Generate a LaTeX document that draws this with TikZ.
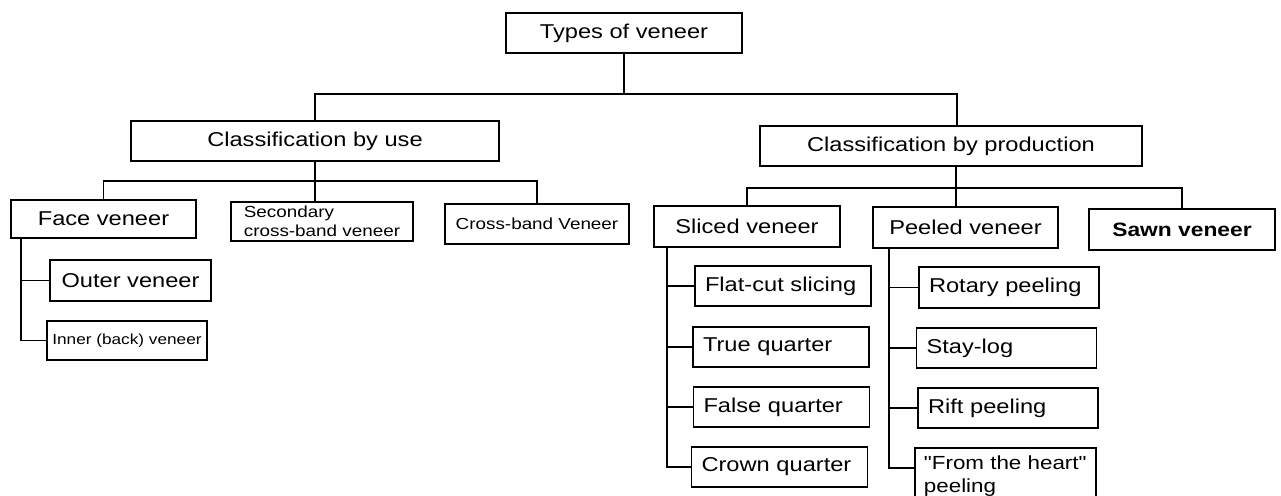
\documentclass[tikz,border=0pt]{standalone}
\usepackage{fontspec}
\setmainfont{Liberation Sans}[FakeStretch=1.18, Ligatures=TeXOff]
\begin{document}
\begin{tikzpicture}[
    x=0.02cm, y=-0.02cm,
    catbox/.style={draw, line width=0.9pt, inner sep=0pt, minimum height=0.8cm, font=\fontsize{11.4}{13.7}\selectfont},
    smallbox/.style={catbox, align=left, font=\fontsize{9.1}{10.8}\selectfont},
    leafbox/.style={catbox, align=left, inner xsep=0.2cm, text width=#1},
]
    \useasboundingbox (0,0) rectangle (1281,496);

    % Root and the two classifications
    \node[catbox, minimum width=4.72cm] (root) at (624,33) {Types of veneer};
    \node[catbox, minimum width=7.36cm] (use) at (315,141) {Classification by use};
    \node[catbox, minimum width=7.64cm] (prod) at (951,146) {Classification by production};

    % By use
    \node[catbox, minimum width=3.7cm, minimum height=0.76cm] (face) at (103.5,219) {Face veneer};
    \node[smallbox, minimum width=3.64cm, minimum height=0.78cm] (sec) at (322,221.5) {Secondary\\cross-band veneer};
    \node[smallbox, minimum width=3.68cm] (cross) at (537,224) {Cross-band Veneer};
    \node[catbox, minimum width=3.22cm, minimum height=0.82cm] (outer) at (130.5,280.5) {Outer veneer};
    \node[catbox, minimum width=3.2cm, minimum height=0.78cm, font=\fontsize{8.3}{10}\selectfont] (inner) at (127,340.5) {Inner (back) veneer};

    % By production
    \node[catbox, minimum width=3.72cm, minimum height=0.82cm] (sliced) at (747,226.5) {Sliced veneer};
    \node[catbox, minimum width=3.7cm, minimum height=0.82cm] (peeled) at (965.5,227.5) {Peeled veneer};
    \node[catbox, minimum width=3.72cm, minimum height=0.82cm, font=\fontsize{11}{13}\selectfont\bfseries] (sawn) at (1182,229.5) {Sawn veneer};

    % Slicing methods
    \node[leafbox=3.12cm] (flat) at (783,286) {Flat-cut slicing};
    \node[leafbox=3.12cm] (trueq) at (781,347) {True quarter};
    \node[leafbox=3.12cm] (falseq) at (781.5,407) {False quarter};
    \node[leafbox=3.12cm] (crown) at (779.5,467) {Crown quarter};

    % Peeling methods
    \node[leafbox=3.2cm, minimum height=0.82cm] (rotary) at (1009,287.5) {Rotary peeling};
    \node[leafbox=3.2cm] (staylog) at (1006.5,348) {Stay-log};
    \node[leafbox=3.2cm] (rift) at (1008,408) {Rift peeling};
    \node[catbox, align=left, anchor=north west, minimum width=3.62cm, minimum height=1.12cm,
          font=\fontsize{10.8}{13}\selectfont] (heart) at (914,447) {"From the heart"\\peeling};

    % Tree connectors
    \draw[line width=0.9pt] (root.south) -- ++(0,40) -| (use.north);
    \draw[line width=0.9pt] (root.south) -- ++(0,40) -| ([xshift=0.12cm]prod.north);
    \draw[line width=0.9pt] (face.north) -- ++(0,-18) -| (cross.north);
    \draw[line width=0.9pt] (use.south) -- (use.south |- sec.north);
    \draw[line width=0.9pt] (sliced.north) -- ++(0,-17) -| (sawn.north);
    \draw[line width=0.9pt] ([xshift=0.1cm]prod.south) -- ([xshift=0.1cm]prod.south |- peeled.north);

    % Side branches
    \draw[line width=0.9pt] (face.south west) ++(11,0) |- (outer.west);
    \draw[line width=0.9pt] (face.south west) ++(11,0) |- (inner.west);
    \foreach \leaf in {flat,trueq,falseq,crown}
        \draw[line width=0.9pt] (sliced.south west) ++(14,0) |- (\leaf.west);
    \foreach \leaf in {rotary,staylog,rift}
        \draw[line width=0.9pt] (peeled.south west) ++(17,0) |- (\leaf.west);
    \draw[line width=0.9pt] (peeled.south west) ++(17,0) |- ([yshift=0.16cm]heart.west);
\end{tikzpicture}
\end{document}
